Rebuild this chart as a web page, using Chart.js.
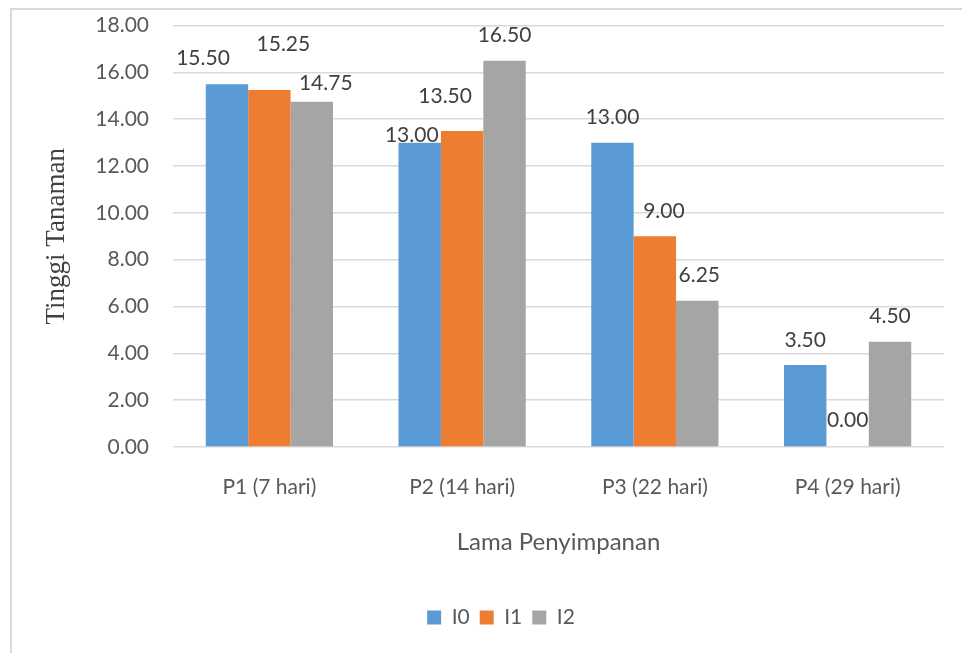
<!DOCTYPE html>
<html>
<head>
<meta charset="utf-8">
<script src="https://cdn.jsdelivr.net/npm/chart.js@4.4.1/dist/chart.umd.min.js"></script>
<style>
  html, body { margin: 0; padding: 0; background: #fff; overflow: hidden; }
  #frame {
    position: absolute; left: 10px; top: 8px;
    width: 1000px; height: 700px;
    border: 2px solid #d9d9d9;
  }
  #wrap { position: absolute; left: 0; top: -21px; width: 975px; height: 661px; }
</style>
</head>
<body>
<div id="frame"><div id="wrap"><canvas id="chart"></canvas></div></div>
<script>
// Lama penyimpanan (categories)
const categories = ['P1 (7 hari)', 'P2 (14 hari)', 'P3 (22 hari)', 'P4 (29 hari)'];

// Tinggi tanaman per series
const seriesNames = ['I0', 'I1', 'I2'];
const valuesI0 = [15.50, 13.00, 13.00, 3.50];
const valuesI1 = [15.25, 13.50, 9.00, 0.00];
const valuesI2 = [14.75, 16.50, 6.25, 4.50];

const yMin = 0;
const yMax = 18;
const yStep = 2;

const colors = ['#5b9bd5', '#ed7d31', '#a5a5a5'];

// labels in the original were dragged around a bit by hand: [dx, dy] per series/category
const labelNudge = [
    [[-24, -1], [-8, 18], [0, 0], [0, 0]],
    [[14, -21], [-17, -10], [9, 0], [0, -2]],
    [[14, 7], [0, 0], [2, 0], [0, 0]]
];

// draws the value above each bar, like the Excel data labels
const barLabels = {
    id: 'barLabels',
    afterDatasetsDraw(chart) {
        const ctx = chart.ctx;
        ctx.save();
        ctx.font = '21px Lato';
        ctx.fillStyle = '#404040';
        ctx.textAlign = 'center';
        ctx.textBaseline = 'middle';
        chart.data.datasets.forEach((ds, i) => {
            const meta = chart.getDatasetMeta(i);
            meta.data.forEach((bar, j) => {
                const n = labelNudge[i][j];
                ctx.fillText(ds.data[j].toFixed(2), bar.x + n[0], bar.y - 25 + n[1]);
            });
        });
        ctx.restore();
    }
};

const ctx = document.getElementById('chart').getContext('2d');

new Chart(ctx, {
    type: 'bar',
    data: {
        labels: categories,
        datasets: [
            { label: seriesNames[0], data: valuesI0, backgroundColor: colors[0] },
            { label: seriesNames[1], data: valuesI1, backgroundColor: colors[1] },
            { label: seriesNames[2], data: valuesI2, backgroundColor: colors[2] }
        ]
    },
    options: {
        responsive: true,
        maintainAspectRatio: false,
        animation: false,
        datasets: {
            bar: { barPercentage: 1, categoryPercentage: 0.66 }
        },
        layout: { padding: { top: -16, right: 43, bottom: 12, left: 46 } },
        plugins: {
            legend: {
                position: 'bottom',
                labels: {
                    boxWidth: 14,
                    boxHeight: 14,
                    padding: 10,
                    color: '#595959',
                    font: { family: 'Lato', size: 21 }
                }
            },
            tooltip: { enabled: false }
        },
        scales: {
            x: {
                grid: { display: false, drawTicks: false },
                border: { display: false },
                ticks: {
                    color: '#595959',
                    padding: 28,
                    font: { family: 'Lato', size: 21 }
                },
                title: {
                    display: true,
                    text: 'Lama Penyimpanan',
                    color: '#595959',
                    font: { family: 'Lato', size: 24 },
                    padding: { top: 0, bottom: 40 }
                }
            },
            y: {
                min: yMin,
                max: yMax,
                grid: { color: '#d9d9d9', lineWidth: 1.5, drawTicks: false },
                border: { display: false },
                ticks: {
                    stepSize: yStep,
                    color: '#595959',
                    padding: 24,
                    font: { family: 'Lato', size: 21 },
                    callback: (val) => Number(val).toFixed(2)
                },
                title: {
                    display: true,
                    text: 'Tinggi Tanaman',
                    color: '#404040',
                    font: { family: 'Liberation Serif', size: 27 },
                    padding: { top: -17, bottom: 0 }
                },
                afterFit: (scale) => { scale.width = 115; }
            }
        }
    },
    plugins: [barLabels]
});
</script>
</body>
</html>
